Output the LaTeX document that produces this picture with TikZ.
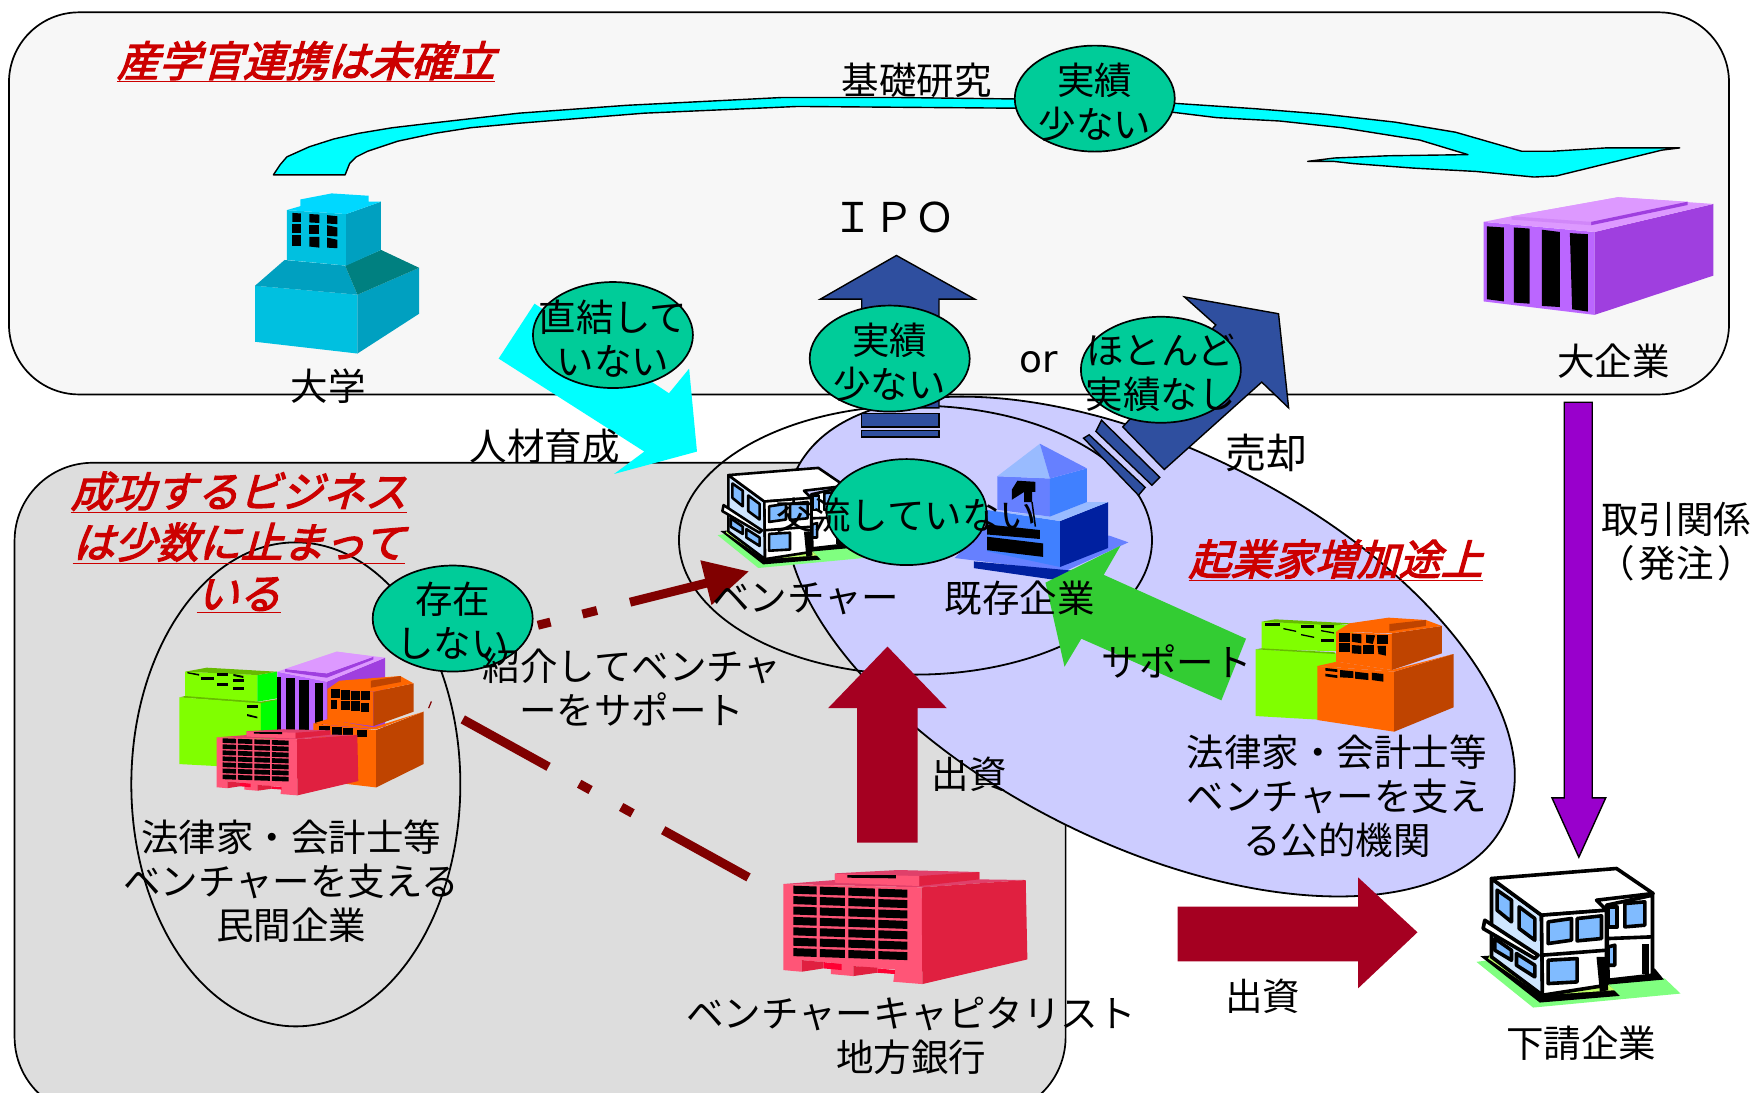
\documentclass[tikz,border=0pt]{standalone}
\usepackage{fontspec}
\usetikzlibrary{shapes.geometric}
\setmainfont{Noto Sans CJK JP}
\newfontfamily\latinf{DejaVu Sans}
\newfontfamily\redf[FakeSlant=0.28,FakeBold=3]{Noto Sans CJK JP}
\definecolor{panelc}{HTML}{F7F7F7}
\definecolor{greyc}{HTML}{DDDDDD}
\definecolor{lavc}{HTML}{CCCCFF}
\definecolor{ellc}{HTML}{00CC99}
\definecolor{blueac}{HTML}{2F4F9F}
\definecolor{maroonc}{HTML}{800000}
\definecolor{crimc}{HTML}{A50021}
\definecolor{purpc}{HTML}{9900CC}
\definecolor{suppc}{HTML}{33CC33}
\definecolor{redtxt}{HTML}{CC0000}
\definecolor{cyanc}{HTML}{00FFFF}
\definecolor{tealc}{HTML}{008080}
\definecolor{purered}{HTML}{FF0033}
\definecolor{rf}{HTML}{FF5577}
\definecolor{rs}{HTML}{E02040}
\definecolor{rt}{HTML}{E0406A}
\definecolor{of}{HTML}{FF6600}
\definecolor{os}{HTML}{BF4400}
\definecolor{gf}{HTML}{80FF00}
\definecolor{gs}{HTML}{00FF00}
\definecolor{gt}{HTML}{66BB00}
\definecolor{pf}{HTML}{BB66FF}
\definecolor{ps}{HTML}{9F3FDF}
\definecolor{pt}{HTML}{DD99FF}
\definecolor{uf}{HTML}{00C0E0}
\definecolor{us}{HTML}{00A0C0}
\definecolor{ut}{HTML}{00D8FF}
\definecolor{wb}{HTML}{80BBFF}
\definecolor{wl}{HTML}{CFE6FF}
\definecolor{wg}{HTML}{80FF80}
\definecolor{wy}{HTML}{BFFF66}
\definecolor{bl1}{HTML}{4080FF}
\definecolor{bl2}{HTML}{6680FF}
\definecolor{bl3}{HTML}{99BBFF}
\definecolor{bl4}{HTML}{0020A0}
\tikzset{
 lab/.style={inner sep=0pt,align=center,font=\fontsize{37.5}{44}\selectfont,text=black},
 redlab/.style={inner sep=0pt,align=center,font=\redf\fontsize{42}{51}\selectfont,text=redtxt},
 bubble/.style={ellipse,draw=black,line width=1.7pt,fill=ellc,inner sep=0pt,minimum width=160pt,minimum height=106pt},
 ring/.style={ellipse,draw=black,line width=1.8pt,inner sep=0pt},
 block/.style={draw=black,line width=1.4pt,line join=miter},
 flowline/.style={draw=maroonc,line width=9pt},
}
\def\polyw#1,#2,#3,#4,#5,#6,#7,#8\relax{\filldraw[fill=wb] (#1,#2)--(#3,#4)--(#5,#6)--(#7,#8)--cycle;}
\newcommand{\redbld}[3]{\begin{scope}[shift={(#1,#2)},x=#3pt,y=-#3pt]
 \fill[rt] (0,32)--(155,20)--(155,0)--(345,-10)--(588,-4)--(588,18)--(727,20)--(415,42)--cycle;
 \fill[rf] (155,2)--(408,8)--(408,38)--(155,28)--cycle;
 \fill[rs] (408,8)--(588,-4)--(588,18)--(408,38)--cycle;
 \fill[black] (192,5)--(338,5)--(338,15)--(192,13)--cycle;
 \fill[rf] (0,32)--(415,42)--(417,332)--(330,325)--(335,288)--(282,285)--(210,278)--(210,308)--(143,302)--(143,268)--(55,260)--(55,295)--(0,290)--cycle;
 \fill[rs] (415,42)--(727,20)--(732,258)--(417,332)--cycle;
 \foreach \i in {0,...,6}{
  \pgfmathsetmacro{\ya}{37+30.6*\i}
  \foreach \xa/\xb in {30/100,110/185,195/275,285/372}{
   \fill[black] (\xa,{\ya+(\xa-30)*0.035+(\i*0.6)}) -- (\xb,{\ya+(\xb-30)*0.035+(\i*0.6)}) -- (\xb,{\ya+(\xb-30)*0.035+(\i*0.6)+24}) -- (\xa,{\ya+(\xa-30)*0.035+(\i*0.6)+24}) -- cycle;
  }}
 \fill[rs] (55,260)--(120,266)--(120,285)--(55,295)--cycle;
 \fill[rs] (210,278)--(282,283)--(282,298)--(210,308)--cycle;
 \fill[purered] (120,266)--(175,272)--(175,290)--(120,285)--cycle;
 \fill[purered] (282,285)--(335,290)--(335,302)--(282,298)--cycle;
\end{scope}}
\newcommand{\whitebld}[4]{\begin{scope}[shift={(#1,#2)},x=#3pt,y=-#3pt,line join=round,line width=#4pt]
 \fill[wg] (-45,250)--(125,387)--(567,345)--(520,300)--(100,230)--cycle;
 \fill[black] (-33,233)--(145,372)--(385,352)--(350,318)--(517,303)--(490,270)--(100,225)--cycle;
 \fill[wy] (-10,240)--(150,350)--(370,335)--(340,310)--(480,290)--(460,270)--(0,220)--cycle;
 \filldraw[fill=white] (345,80)--(483,50)--(483,290)--(350,305)--cycle;
 \filldraw[fill=wl] (0,0)--(150,110)--(153,350)--(0,235)--cycle;
 \filldraw[fill=white] (0,0)--(375,-30)--(485,45)--(315,65)--(345,95)--(150,110)--cycle;
 \filldraw[fill=white] (150,110)--(345,95)--(345,320)--(153,350)--cycle;
 \foreach \p in {{17,35,60,65,60,130,17,95},{83,85,130,120,130,185,83,150},{10,180,60,215,60,245,10,215},{75,225,130,260,130,295,75,260},{170,130,240,120,240,185,170,195},{257,120,330,112,330,180,257,187},{170,245,257,240,257,310,170,315},{400,75,460,70,460,140,400,145},{350,85,377,85,377,145,350,145},{350,205,370,200,370,260,350,260}}{
  \expandafter\polyw\p\relax
 }
 \filldraw[fill=white] (-20,125)--(140,230)--(130,240)--(-25,150)--cycle;
 \draw (150,230)--(345,215);
 \draw (350,180)--(480,175);
 \fill[white] (395,200)--(450,195)--(450,260)--(395,270)--cycle;
 \fill[black] (450,195)--(472,195)--(472,285)--(450,285)--cycle;
 \fill[black] (315,235)--(345,235)--(350,335)--(325,340)--cycle;
\end{scope}}
\newcommand{\win}[4]{\fill[black] (#1,#2) rectangle (#3,#4);}
\begin{document}
\begin{tikzpicture}[x=1.1205pt,y=-1.1205pt]
\useasboundingbox (0,0) rectangle (1568,975.4);
% panels
\draw[fill=panelc,line width=1.7pt,rounded corners=70pt] (8,11) rectangle (1543,352);
\begin{scope}
\clip (0,0) rectangle (1568,975.4);
\draw[fill=greyc,line width=1.7pt,rounded corners=78pt] (13,413) rectangle (951,995);
\end{scope}
\draw[fill=lavc,line width=1.8pt,rotate around={-26.6:(1026.5,577)}] (1026.5,577) ellipse (353 and 176);
\node[ring,minimum width=329pt,minimum height=484pt] (privring) at (264,700) {};
\node[ring,minimum width=473pt,minimum height=269pt] (ventring) at (817,482) {};

% curved cyan arrow
\filldraw[fill=cyanc,line width=1.4pt,line join=round] (244,156)--(250,147)--(256,140)--(276,131)--(298,124)--(320,119)--(350,114)--(384,110)--(463,101)--(559,94)--(698,87)--(800,87)--(960,89)--(1045,92)--(1120,97)--(1183,102)--(1245,109)--(1299,118)--(1358,135)--(1385,135)--(1433,132)--(1499,132)--(1483,134)--(1389,157)--(1369,158)--(1317,153)--(1261,150)--(1208,146)--(1190,144)--(1167,144)--(1191,141)--(1239,139)--(1310,138)--(1267,125)--(1198,114)--(1142,108)--(1086,105)--(1045,100)--(960,97)--(712,95)--(575,101)--(463,110)--(420,114)--(388,119)--(355,126)--(328,135)--(318,140)--(312,146)--(308,156)--cycle;

% university
\fill[uf] (227.6,255)--(319,263)--(319,315.5)--(227.6,305)--cycle;
\fill[us] (319,263)--(374,239)--(374,280)--(319,315.5)--cycle;
\fill[us] (227.6,255)--(254,232)--(308,237)--(319,263)--cycle;
\fill[tealc] (308,237)--(340,223)--(374,239)--(319,263)--cycle;
\fill[uf] (256,187.5)--(309,191)--(309,237)--(256,232)--cycle;
\fill[us] (309,191)--(340,180)--(340,223)--(309,237)--cycle;
\fill[ut] (256,187.5)--(268,184)--(268,178)--(296,172.6)--(329,174.7)--(329,180)--(340,180)--(309,191)--cycle;
\fill[black] (261,190)--(268.5,190.5)--(268.5,198)--(261,198)--cycle;
\fill[black] (276,191)--(285,191.5)--(285,199)--(276,198.5)--cycle;
\fill[black] (292,192)--(301,193)--(301,200)--(292,199.5)--cycle;
\fill[black] (261,199.5)--(268.5,199.5)--(268.5,208)--(261,208)--cycle;
\fill[black] (276,200.5)--(285,200.5)--(285,209)--(276,209)--cycle;
\fill[black] (292,201)--(301,203)--(301,211)--(292,210.5)--cycle;
\fill[black] (261,210)--(268.5,210)--(268.5,219.5)--(261,219.5)--cycle;
\fill[black] (276,211.5)--(285,211.5)--(285,221)--(276,220)--cycle;
\fill[black] (292,212)--(301,214)--(301,221.5)--(292,221)--cycle;

% large company
\fill[pf] (1324,198)--(1423,207)--(1423,281)--(1324,269)--cycle;
\fill[ps] (1423,207)--(1529,182)--(1529,246)--(1423,281)--cycle;
\fill[pt] (1324,198)--(1349,193)--(1444,176)--(1529,182)--(1423,207)--cycle;
\fill[pt] (1349,193)--(1444,176)--(1506,180)--(1420,198)--cycle;
\fill[ps] (1420,198)--(1506,180)--(1506,183)--(1420,201)--cycle;
\fill[pt!80!ps] (1349,193)--(1420,198)--(1420,201)--(1349,196)--cycle;
\fill[black] (1327,202)--(1342,203)--(1342,269)--(1327,267)--cycle;
\fill[black] (1351,203)--(1365,204)--(1365,271)--(1351,270)--cycle;
\fill[black] (1376,205)--(1392,207)--(1392,274)--(1376,273)--cycle;
\fill[black] (1401,208)--(1417,209)--(1417,278)--(1403,276)--cycle;

% staffing arrow
\fill[cyanc] (477,271)--(597,351)--(615,329)--(622,403)--(548,423)--(575,403)--(445,320)--cycle;

% blue up arrow
\filldraw[block,fill=blueac] (800,228)--(870,267)--(838,267)--(838,364)--(769,364)--(769,267)--(732,267)--cycle;
\filldraw[block,fill=blueac] (769,369) rectangle (838,381);
\filldraw[block,fill=blueac] (769,384) rectangle (838,390);
% blue sale arrow
\filldraw[block,fill=blueac] (1057,265)--(1141,280)--(1150,364)--(1126,341)--(1039,419)--(1002,381)--(1085,290)--cycle;
\filldraw[block,fill=blueac] (983,375)--(1035,426)--(1028,433)--(978,385)--cycle;
\filldraw[block,fill=blueac] (972,388)--(1022,435)--(1016,442)--(967,391)--cycle;

% purple arrow
\filldraw[block,fill=purpc] (1396,359)--(1421,359)--(1421,712)--(1433,712)--(1409,765)--(1385,712)--(1396,712)--cycle;

% venture building
\whitebld{650}{424}{0.24}{2.6}

% established firm
\fill[bl2] (852,498)--(950,510)--(1007,484)--(990,478)--(880,470)--cycle;
\fill[bl4] (869,501)--(869,507)--(945,518)--(965,510)--cycle;
\fill[bl1] (881,455)--(946,465)--(946,506)--(881,492)--cycle;
\fill[bl4] (946,465)--(989,448)--(989,489)--(946,506)--cycle;
\fill[bl3] (881,455)--(937,461)--(970,448)--(989,448)--(946,465)--cycle;
\fill[bl2] (890,425)--(937,427)--(937,461)--(890,455)--cycle;
\fill[bl1] (937,427)--(970,418)--(970,448)--(937,461)--cycle;
\fill[bl3] (890,425)--(928,396)--(937,427)--cycle;
\fill[bl2] (928,396)--(970,418)--(937,427)--cycle;
\fill[black] (908,429)--(924,430)--(924,439)--(921,439)--(921,448)--(914,448)--(914,439)--(903,446)--(903,437)--cycle;
\draw[black,line width=1.5pt] (921,448)--(924,470);
\fill[black] (881,468)--(928,473)--(928,481)--(881,477)--cycle;
\fill[black] (881,479)--(931,485)--(931,497)--(881,491)--cycle;

% support arrow
\fill[suppc] (1000,487)--(985,513)--(1112,570)--(1090,625)--(965,570)--(950,595)--(933,520)--cycle;

% maroon connectors
\coordinate (ma) at (480,558);
\coordinate (mb) at (640,518);
\draw[flowline,dash pattern=on 13pt off 33pt on 15pt off 34pt on 80pt off 60pt] (ma)--(mb);
\fill[maroonc] (625,500)--(668,510)--(635,540)--cycle;
\coordinate (mc) at (413,642);
\coordinate (md) at (668,783);
\draw[flowline,dash pattern=on 98pt off 35pt on 13pt off 35pt on 13pt off 35pt on 102pt off 20pt] (mc)--(md);
\draw[maroonc,line width=1.2pt] (382.5,632)--(385,626);

% VC building
\redbld{699}{779.4}{0.3335}

% left cluster
\begin{scope}[shift={(133.9,553.3)},x=0.3335pt,y=-0.3335pt]
 \fill[gf] (105,155)--(322,165)--(322,245)--(105,230)--cycle;
 \fill[gs] (322,165)--(380,155)--(380,235)--(322,245)--cycle;
 \fill[gt] (105,155)--(170,143)--(380,155)--(322,165)--cycle;
 \fill[gt] (88,232)--(105,228)--(332,245)--(417,232)--(332,252)--cycle;
 \fill[gf] (88,232)--(332,250)--(332,445)--(88,432)--cycle;
 \fill[gs] (332,250)--(417,232)--(417,400)--(332,445)--cycle;
 \fill[black] (112,156)--(147,162)--(147,167)--(112,160)--cycle;
 \win{153}{171}{192}{180} \win{201}{159}{234}{168} \win{201}{189}{234}{198}
 \win{249}{177}{282}{186} \win{249}{201}{282}{210} \win{291}{255}{324}{264}
 \fill[black] (250,162)--(280,168)--(280,174)--(250,168)--cycle;
 \fill[black] (291,282)--(322,290)--(322,295)--(291,288)--cycle;
 \fill[pf] (382,155)--(530,185)--(530,345)--(382,345)--cycle;
 \fill[ps] (530,185)--(705,113)--(705,320)--(530,345)--cycle;
 \fill[pt] (382,155)--(405,147)--(560,95)--(705,113)--(530,185)--cycle;
 \fill[ps] (405,147)--(530,160)--(670,110)--(670,118)--(530,173)--(405,155)--cycle;
 \fill[pt] (405,147)--(560,95)--(670,110)--(530,160)--cycle;
 \win{382}{170}{393}{335} \win{408}{175}{436}{335} \win{448}{180}{478}{335} \win{495}{188}{520}{335}
 \fill[of] (490,310)--(678,330)--(678,502)--(490,480)--cycle;
 \fill[os] (678,330)--(820,275)--(820,432)--(678,502)--cycle;
 \fill[of] (490,310)--(530,298)--(670,322)--(820,275)--(678,328)--cycle;
 \fill[of] (532,207)--(670,215)--(670,318)--(532,300)--cycle;
 \fill[os] (670,215)--(790,190)--(790,275)--(670,318)--cycle;
 \fill[of] (532,207)--(568,182)--(750,168)--(790,190)--(670,215)--cycle;
 \fill[os] (662,182)--(752,168)--(752,186)--(662,203)--cycle;
 \win{543}{207}{570}{235} \win{574}{211}{600}{240} \win{604}{213}{630}{240} \win{634}{213}{660}{241}
 \win{544}{240}{562}{268} \win{574}{243}{600}{270} \win{604}{244}{630}{272} \win{634}{248}{658}{276}
 \win{507}{318}{540}{332} \win{545}{320}{575}{344} \win{580}{324}{610}{345} \win{622}{330}{652}{352}
\end{scope}
\redbld{193.4}{652.5}{0.1934}

% right cluster
\begin{scope}[shift={(1088.8,526.5)},x=0.3335pt,y=-0.3335pt]
 \fill[gf] (125,95)--(400,105)--(400,185)--(125,178)--cycle;
 \fill[gt] (125,95)--(165,88)--(395,100)--(345,106)--cycle;
 \fill[gf] (107,178)--(350,190)--(350,392)--(107,378)--cycle;
 \fill[gt] (107,178)--(125,175)--(345,187)--(345,192)--cycle;
 \win{135}{99}{180}{107} \win{243}{105}{282}{114} \win{303}{105}{342}{114} \win{303}{147}{342}{156}
 \fill[black] (190,114)--(228,122)--(228,126)--(190,118)--cycle;
 \fill[black] (243,132)--(282,140)--(282,144)--(243,136)--cycle;
 \fill[black] (303,120)--(342,127)--(342,131)--(303,124)--cycle;
 \fill[of] (292,228)--(522,245)--(522,425)--(292,390)--cycle;
 \fill[os] (522,245)--(700,192)--(700,352)--(522,425)--cycle;
 \fill[of] (292,228)--(350,215)--(515,240)--(700,192)--(522,245)--cycle;
 \fill[of] (348,125)--(515,132)--(515,240)--(348,215)--cycle;
 \fill[os] (515,130)--(665,108)--(665,190)--(515,240)--cycle;
 \fill[of] (348,125)--(388,100)--(505,83)--(617,90)--(665,108)--(515,130)--cycle;
 \fill[os] (508,102)--(617,90)--(617,108)--(508,124)--cycle;
 \win{358}{129}{390}{156} \fill[black] (395,131)--(424,133)--(424,160)--(395,155)--cycle;
 \fill[black] (438,134)--(465,136)--(458,162)--(438,158)--cycle;
 \win{472}{135}{504}{162} \win{358}{160}{390}{186}
 \fill[black] (395,165)--(424,167)--(424,192)--(395,190)--cycle;
 \win{430}{166}{463}{192} \fill[black] (472,168)--(497,168)--(497,197)--(475,192)--cycle;
 \fill[black] (316,234)--(352,238)--(352,246)--(316,242)--cycle;
 \fill[black] (316,251)--(352,256)--(352,264)--(316,259)--cycle;
 \fill[black] (360,240)--(400,244)--(400,264)--(360,262)--cycle;
 \fill[black] (405,245)--(445,250)--(445,270)--(405,266)--cycle;
 \fill[black] (455,248)--(490,252)--(490,275)--(455,270)--cycle;
\end{scope}

% subcontractor building
\whitebld{1331}{784}{0.3335}{3.6}

% big arrows
\fill[crimc] (792,577)--(845,632)--(819,632)--(819,752)--(765,752)--(765,632)--(739,632)--cycle;
\fill[crimc] (1051,809)--(1212,809)--(1212,783)--(1265,832)--(1212,882)--(1212,858)--(1051,858)--cycle;

% bubbles
\node[bubble] (b1) at (977,88) {};
\node[bubble] (b2) at (547,299) {};
\node[bubble] (b3) at (794,320) {};
\node[bubble] (b4) at (1036,330) {};
\node[bubble] (b5) at (809,457) {};
\node[bubble] (b6) at (404,552) {};

% text
\node[redlab,font=\redf\fontsize{42}{44}\selectfont] (t1) at (273,55) {\underline{産学官連携は未確立}};
\node[redlab] (t2) at (213,484) {\underline{成功するビジネス}\\\underline{は少数に止まって}\\\underline{いる}};
\node[redlab] (t3) at (1192,500) {\underline{起業家増加途上}};
\node[lab] (t4) at (818,72) {基礎研究};
\node[lab,font=\fontsize{41}{44}\selectfont] (t5) at (798,194) {ＩＰＯ};
\node[lab] (t6) at (1440,322) {大企業};
\node[lab] (t7) at (293,345) {大学};
\node[lab] (t8) at (486,398) {人材育成};
\node[lab,font=\latinf\fontsize{37.5}{44}\selectfont] (t9) at (927,323) {or};
\node[lab,font=\fontsize{41}{44}\selectfont] (t10) at (1130,404) {売却};
\node[lab] (t11) at (1496,483) {取引関係\\（\hspace{4pt}発注\hspace{4pt}）};
\node[lab] (t12) at (977,91) {実績\\少ない};
\node[lab] (t13) at (547,302) {直結して\\いない};
\node[lab] (t14) at (794,323) {実績\\少ない};
\node[lab] (t15) at (1036,333) {ほとんど\\実績なし};
\node[lab] (t16) at (809,460) {交流していない};
\node[lab] (t17) at (404,554) {存在\\しない};
\node[lab] (t18) at (719,534) {ベンチャー};
\node[lab] (t19) at (910,534) {既存企業};
\node[lab] (t20) at (1050,590) {サポート};
\node[lab] (t21) at (564,614) {紹介してベンチャ\\ーをサポート};
\node[lab] (t22) at (260,786) {法律家・会計士等\\ベンチャーを支える\\民間企業};
\node[lab] (t23) at (1193,711) {法律家・会計士等\\ベンチャーを支え\\る公的機関};
\node[lab] (t24) at (865,691) {出資};
\node[lab] (t25) at (1127,889) {出資};
\node[lab] (t26) at (813,924) {ベンチャーキャピタリスト\\地方銀行};
\node[lab] (t27) at (1411,931) {下請企業};
\end{tikzpicture}
\end{document}
